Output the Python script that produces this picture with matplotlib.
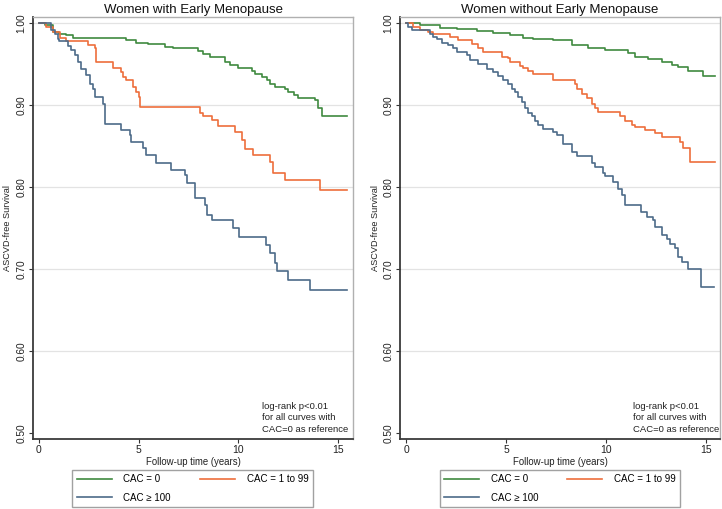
import matplotlib
matplotlib.use("Agg")
import matplotlib.pyplot as plt

plt.rcParams['font.family'] = ['Liberation Sans', 'DejaVu Sans']

# ---------------- data ----------------
titles = ["Women with Early Menopause", "Women without Early Menopause"]
legend_labels = ["CAC = 0", "CAC = 1 to 99", "CAC \u2265 100"]
x_ticks = [0, 5, 10, 15]
y_ticks = [0.5, 0.6, 0.7, 0.8, 0.9, 1.0]
y_ticklabels = ["0.50", "0.60", "0.70", "0.80", "0.90", "1.00"]
note_text = "log-rank p<0.01\nfor all curves with\nCAC=0 as reference"

# Left panel: women with early menopause
em_cac0_t = [0, 0.28, 0.70, 1.0, 1.37, 1.71, 4.38, 4.88, 5.47, 6.3, 6.74, 8.0, 8.24, 8.6,
             9.33, 9.58, 10.0, 10.67, 10.84, 11.17, 11.46, 11.59, 11.84, 12.34, 12.51,
             12.8, 13.0, 13.85, 14.0, 14.18, 15.44]
em_cac0_s = [1.0, 0.997, 0.989, 0.987, 0.985, 0.982, 0.979, 0.976, 0.974, 0.971, 0.969,
             0.966, 0.962, 0.958, 0.952, 0.949, 0.945, 0.941, 0.938, 0.934, 0.930, 0.926,
             0.922, 0.919, 0.916, 0.912, 0.909, 0.906, 0.896, 0.886, 0.886]

em_cac1_t = [0, 0.37, 0.70, 1.04, 1.37, 2.46, 2.79, 2.88, 3.71, 4.13, 4.21, 4.38, 4.72,
             4.88, 5.02, 5.09, 8.08, 8.24, 8.66, 9.0, 9.83, 10.17, 10.33, 10.75, 11.59,
             11.76, 12.34, 14.1, 15.44]
em_cac1_s = [1.0, 0.995, 0.989, 0.982, 0.978, 0.973, 0.970, 0.952, 0.945, 0.940, 0.934,
             0.930, 0.922, 0.916, 0.910, 0.897, 0.890, 0.886, 0.882, 0.874, 0.867, 0.857,
             0.846, 0.839, 0.831, 0.817, 0.808, 0.796, 0.796]

em_cac100_t = [0, 0.62, 0.79, 0.95, 1.0, 1.46, 1.62, 1.79, 1.96, 2.12, 2.38, 2.54, 2.71,
               2.79, 3.21, 3.29, 4.13, 4.55, 4.63, 5.22, 5.38, 5.85, 6.63, 7.3, 7.4, 7.83,
               8.33, 8.45, 8.66, 9.72, 10.05, 11.39, 11.59, 11.84, 11.96, 12.51, 13.6, 15.44]
em_cac100_s = [1.0, 0.991, 0.987, 0.981, 0.978, 0.972, 0.967, 0.961, 0.952, 0.944, 0.936,
               0.926, 0.920, 0.910, 0.901, 0.877, 0.869, 0.863, 0.855, 0.847, 0.839, 0.829,
               0.821, 0.815, 0.805, 0.786, 0.778, 0.766, 0.760, 0.750, 0.739, 0.729, 0.719,
               0.707, 0.697, 0.687, 0.674, 0.674]

# Right panel: women without early menopause
nem_cac0_t = [0, 0.7, 1.7, 2.53, 3.53, 4.37, 5.2, 5.87, 6.37, 7.37, 8.28, 9.1, 9.95, 11.1,
              11.45, 12.1, 12.8, 13.3, 13.6, 14.1, 14.85, 15.45]
nem_cac0_s = [1.0, 0.997, 0.994, 0.993, 0.990, 0.988, 0.985, 0.982, 0.981, 0.979, 0.973,
              0.970, 0.967, 0.963, 0.959, 0.956, 0.952, 0.949, 0.946, 0.942, 0.935, 0.935]

nem_cac1_t = [0, 0.37, 0.7, 1.12, 1.37, 2.2, 2.62, 3.28, 3.62, 3.87, 4.78, 5.12, 5.2, 5.7,
              5.87, 6.12, 6.37, 7.37, 8.45, 8.53, 8.78, 9.03, 9.28, 9.45, 9.62, 10.7, 10.95,
              11.28, 11.45, 11.95, 12.45, 12.78, 13.7, 13.87, 14.2, 15.45]
nem_cac1_s = [1.0, 0.995, 0.992, 0.989, 0.987, 0.983, 0.979, 0.974, 0.969, 0.965, 0.959,
              0.957, 0.952, 0.948, 0.945, 0.942, 0.938, 0.931, 0.925, 0.920, 0.913, 0.908,
              0.901, 0.896, 0.892, 0.886, 0.881, 0.876, 0.873, 0.869, 0.866, 0.861, 0.855,
              0.847, 0.830, 0.830]

nem_cac100_t = [0, 0.12, 0.28, 1.2, 1.37, 1.53, 1.78, 2.12, 2.37, 2.53, 3.03, 3.2, 3.62,
                4.03, 4.37, 4.62, 4.87, 5.12, 5.28, 5.45, 5.62, 5.78, 5.95, 6.12, 6.28, 6.45,
                6.62, 6.87, 7.37, 7.53, 7.87, 8.28, 8.53, 9.28, 9.45, 9.87, 9.95, 10.37,
                10.62, 10.78, 10.95, 11.75, 12.03, 12.37, 12.45, 12.78, 13.03, 13.2, 13.45,
                13.62, 13.82, 14.12, 14.73, 15.42]
nem_cac100_s = [1.0, 0.995, 0.991, 0.987, 0.983, 0.980, 0.976, 0.973, 0.969, 0.965, 0.961,
                0.955, 0.950, 0.944, 0.940, 0.935, 0.930, 0.926, 0.920, 0.916, 0.910, 0.904,
                0.896, 0.890, 0.886, 0.880, 0.875, 0.871, 0.867, 0.864, 0.853, 0.843, 0.838,
                0.829, 0.824, 0.817, 0.813, 0.806, 0.797, 0.790, 0.778, 0.770, 0.764, 0.760,
                0.751, 0.741, 0.736, 0.731, 0.726, 0.715, 0.709, 0.700, 0.678, 0.678]

panels = [
    [(em_cac0_t, em_cac0_s), (em_cac1_t, em_cac1_s), (em_cac100_t, em_cac100_s)],
    [(nem_cac0_t, nem_cac0_s), (nem_cac1_t, nem_cac1_s), (nem_cac100_t, nem_cac100_s)],
]
colors = ["#3f8a3f", "#ee6e3c", "#4d6b89"]

# ---------------- figure ----------------
W, H = 722, 509
fig = plt.figure(figsize=(W / 100, H / 100), dpi=100)
fig.patch.set_facecolor("white")

axes_px = [(33, 17, 353, 439), (400, 17, 720, 439)]  # left, top, right, bottom
legend_px = [(72, 470, 313, 506), (439, 470, 681, 506)]
xlims = [(-0.30, 15.75), (-0.30, 15.70)]
note_x = [0.716, 0.728]

for i, (l, t, r, b) in enumerate(axes_px):
    ax = fig.add_axes([l / W, 1 - b / H, (r - l) / W, (b - t) / H])
    ax.set_xlim(*xlims[i])
    ax.set_ylim(0.4927, 1.0073)
    for yv in y_ticks[1:]:
        ax.axhline(yv, color="#e3e3e3", lw=0.9, zorder=0)
    handles = []
    for (tt, ss), c in zip(panels[i], colors):
        assert len(tt) == len(ss)
        h, = ax.step(tt, ss, where="post", color=c, lw=1.2, zorder=3)
        handles.append(h)
    ax.set_xticks(x_ticks)
    ax.set_xticklabels([str(v) for v in x_ticks], fontsize=7.5)
    ax.set_yticks(y_ticks)
    ax.set_yticklabels(y_ticklabels, fontsize=7.3, rotation=90, va="center")
    ax.tick_params(axis="both", direction="out", length=3, width=0.8, color="#333333",
                   labelcolor="#222222", pad=1.5)
    for side in ["left", "bottom"]:
        ax.spines[side].set_color("#3a3a3a")
        ax.spines[side].set_linewidth(1.3)
    for side in ["top", "right"]:
        ax.spines[side].set_color("#b0b0b0")
        ax.spines[side].set_linewidth(1.0)
    ax.set_title(titles[i], fontsize=9.5, pad=3, color="#111111")
    ax.set_xlabel("Follow-up time (years)", fontsize=6.9, labelpad=1, color="#222222")
    ax.set_ylabel("ASCVD-free Survival", fontsize=6.6, color="#222222")
    ax.yaxis.set_label_coords(-20.5 / (r - l), 0.5)
    ax.text(note_x[i], 0.013, note_text, transform=ax.transAxes,
            fontsize=6.8, va="bottom", ha="left", linespacing=1.3, color="#222222")

    ll, lt, lr, lb = legend_px[i]
    leg = ax.legend([handles[0], handles[2], handles[1]],
                    [legend_labels[0], legend_labels[2], legend_labels[1]],
                    ncol=2, loc="upper center",
                    bbox_to_anchor=(((ll + lr) / 2) / W, 1 - lt / H),
                    bbox_transform=fig.transFigure, fontsize=7, frameon=True,
                    fancybox=False, edgecolor="#8a8a8a", handlelength=3.6,
                    handletextpad=1.2, columnspacing=3.0, borderpad=0.45,
                    labelspacing=0.85, borderaxespad=0)
    leg.get_frame().set_linewidth(1.0)

fig.savefig("out.png", dpi=100, facecolor="white")
